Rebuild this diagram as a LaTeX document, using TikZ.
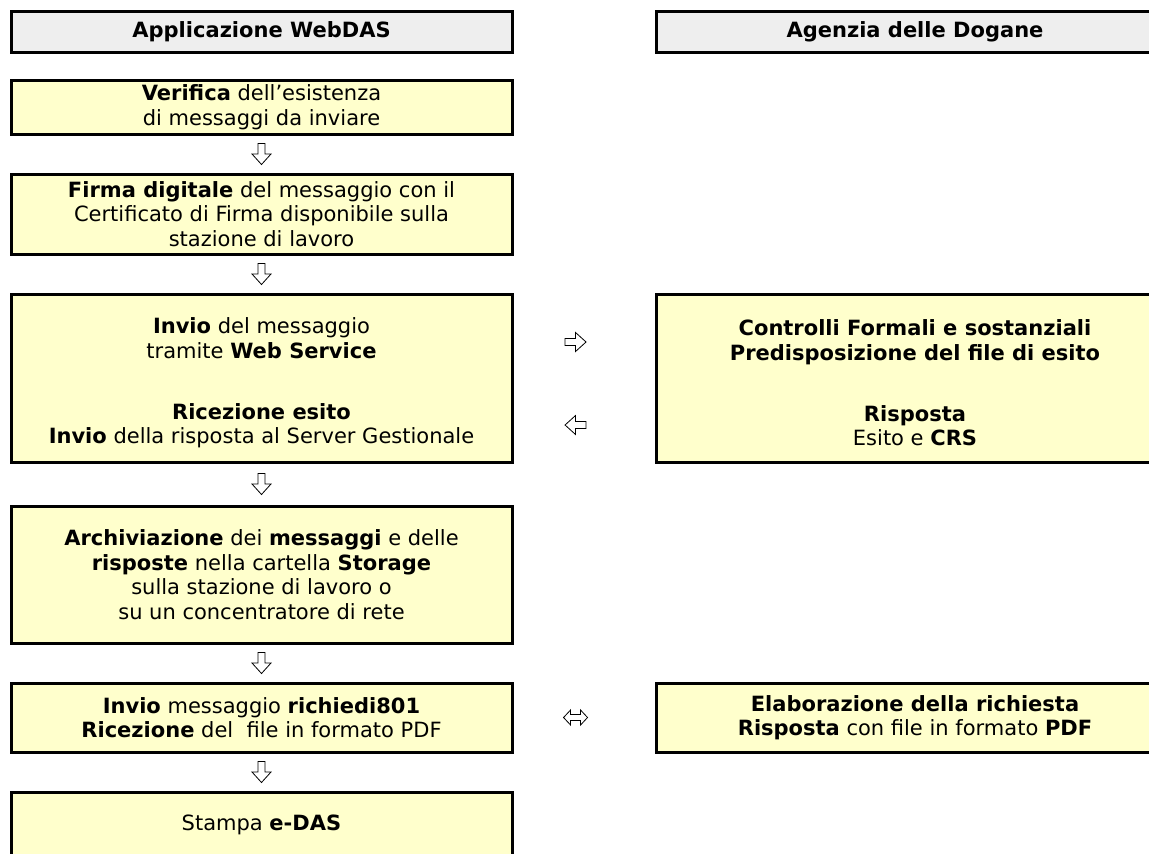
\documentclass[tikz,border=0pt]{standalone}
\usepackage{fontspec}
\setmainfont{DejaVu Sans}
\usetikzlibrary{calc,positioning}
\definecolor{headgray}{HTML}{EEEEEE}
\definecolor{boxyellow}{HTML}{FFFFCC}
\tikzset{
fatarrow/.pic={\draw[line width=.8pt,fill=white] (-10.5,-3.5) -- (0,-3.5) -- (0,-9.5) -- (10.5,0) -- (0,9.5) -- (0,3.5) -- (-10.5,3.5) -- cycle;},
fatboth/.pic={\draw[line width=.8pt,fill=white] (-12,0) -- (-5,-7.5) -- (-5,-3) -- (5,-3) -- (5,-7.5) -- (12,0) -- (5,7.5) -- (5,3) -- (-5,3) -- (-5,7.5) -- cycle;}
}
\begin{document}
\begin{tikzpicture}[x=1pt,y=-1pt,
every node/.style={align=center,inner sep=0pt,font=\fontsize{21}{24.5}\selectfont},
headbox/.style={draw,line width=3pt,fill=headgray,minimum height=41pt,font=\fontsize{21}{24.5}\selectfont\bfseries},
stepbox/.style={draw,line width=3pt,fill=boxyellow}]
\useasboundingbox (0,0) rectangle (1149,854);
\clip (0,0) rectangle (1149,854);
\node[headbox,minimum width=501pt] (webdas) at (261.5,31.5) {Applicazione WebDAS};
\node[headbox,minimum width=518pt] (dogane) at (915,31.5) {Agenzia delle Dogane};
\node[stepbox,minimum width=501pt,minimum height=54pt] (verifica) at (261.5,107) {\textbf{Verifica} dell'esistenza\\di messaggi da inviare};
\node[stepbox,minimum width=501pt,minimum height=80pt] (firma) at (261.5,214) {\textbf{Firma digitale} del messaggio con il\\Certificato di Firma disponibile sulla\\stazione di lavoro};
\node[stepbox,minimum width=501pt,minimum height=168pt] (invio) at (261.5,378) {\rule{0pt}{26pt}\textbf{Invio} del messaggio\\tramite \textbf{Web Service}\\[36.5pt]\textbf{Ricezione esito}\\\textbf{Invio} della risposta al Server Gestionale};
\node[stepbox,minimum width=518pt,minimum height=168pt] (controlli) at (915,378) {\rule{0pt}{26pt}\textbf{Controlli Formali e sostanziali}\\\textbf{Predisposizione del file di esito}\\[36.5pt]\textbf{Risposta}\\Esito e \textbf{CRS}};
\node[stepbox,minimum width=501pt,minimum height=137pt] (archivio) at (261.5,574.5) {\textbf{Archiviazione} dei \textbf{messaggi} e delle\\\textbf{risposte} nella cartella \textbf{Storage}\\sulla stazione di lavoro o\\su un concentratore di rete};
\node[stepbox,minimum width=501pt,minimum height=69pt] (richiesta) at (261.5,717.5) {\textbf{Invio} messaggio \textbf{richiedi801}\\\textbf{Ricezione} del\ \ file in formato PDF};
\node[stepbox,minimum width=518pt,minimum height=69pt] (elabora) at (915,717.5) {\textbf{Elaborazione della richiesta}\\\textbf{Risposta} con file in formato \textbf{PDF}};
\node[stepbox,minimum width=501pt,minimum height=66pt] (stampa) at (261.5,825) {Stampa \textbf{e-DAS}};
\foreach \a/\b in {verifica/firma,firma/invio,invio/archivio,archivio/richiesta,richiesta/stampa}
  \pic[rotate=-90] at ($(\a.south)!.5!(\b.north)$) {fatarrow};
\path (invio.east) -- (controlli.west) coordinate[pos=.44] (mid3);
\path (richiesta.east) -- (elabora.west) coordinate[pos=.44] (mid5);
\pic at ([yshift=36pt]mid3) {fatarrow};
\pic[rotate=180] at ([yshift=-47pt]mid3) {fatarrow};
\pic at (mid5) {fatboth};
\end{tikzpicture}
\end{document}
